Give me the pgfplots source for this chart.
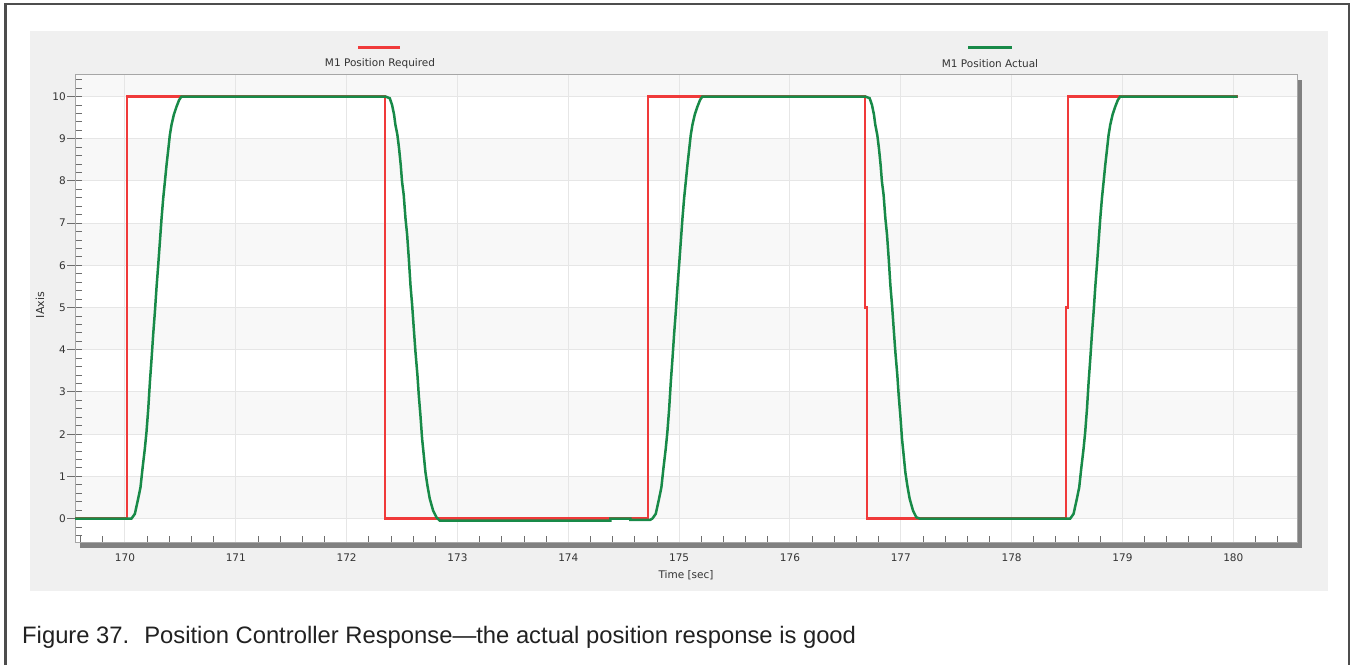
\documentclass[border=0pt]{standalone}
\usepackage{fontspec}
\setmainfont{Liberation Sans}
\newfontfamily\chartfont{DejaVu Sans}
\usepackage{pgfplots}
\pgfplotsset{compat=1.18}
\definecolor{reqred}{RGB}{240,58,58}
\definecolor{actgreen}{RGB}{24,138,72}
\definecolor{panel}{RGB}{240,240,240}
\definecolor{shadowgray}{RGB}{128,128,128}
\definecolor{gridgray}{RGB}{230,230,230}
\definecolor{bandgray}{RGB}{248,248,248}
\definecolor{framegray}{RGB}{77,77,77}
\definecolor{textgray}{RGB}{51,51,51}
\definecolor{tickgray}{RGB}{110,110,110}

\begin{document}
\begin{tikzpicture}[x=1pt,y=1pt]
\path (0,0) rectangle (1354,665);
% frame, panel, plot shadow
\draw[framegray, line width=2.6pt] (5.3,0) -- (5.3,661) -- (1349,661) -- (1349,0);
\fill[panel] (30,74) rectangle (1328,634);
\fill[shadowgray] (80,117) rectangle (1302,585);
\fill[white] (75,122) rectangle (1297,590);
% alternating bands behind the plot (y = 0-1, 2-3, ... in axis units)
\foreach \lo/\hi in {146.48/188.68, 230.88/273.08, 315.27/357.47, 399.67/441.87, 484.07/526.27, 568.46/590}
  \fill[bandgray] (75,\lo) rectangle (1297,\hi);
% legend
\draw[reqred, line width=3pt] (358,617) -- (400,617);
\node[font=\chartfont\fontsize{10.5}{13}\selectfont, text=textgray] at (380,601) {M1 Position Required};
\draw[actgreen, line width=3pt] (968,617) -- (1012,617);
\node[font=\chartfont\fontsize{10.5}{13}\selectfont, text=textgray] at (990,601) {M1 Position Actual};

\begin{axis}[
    at={(75pt,122pt)}, anchor=south west,
    scale only axis, width=1222pt, height=468pt,
    xmin=169.549, xmax=180.575, ymin=-0.58, ymax=10.51,
    xtick distance=1, ytick distance=1,
    minor x tick num=4, minor y tick num=4,
    tick align=inside, tick pos=left,
    major tick length=7pt, minor tick length=7pt,
    tick style={tickgray, line width=0.9pt},
    major x tick style={draw=none},
    grid=major, major grid style={gridgray, line width=1pt},
    axis line style={draw=black!35, line width=1pt},
    scaled x ticks=false,
    /pgf/number format/assume math mode=true,
    tick label style={font=\chartfont\fontsize{10.5}{13}\selectfont, text=textgray},
    xticklabel style={anchor=north, inner sep=0pt, yshift=-11pt},
    yticklabel style={anchor=east, inner sep=0pt, xshift=-9pt},
    extra y ticks={0,1,2,3,4,5,6,7,8,9,10},
    extra y tick labels={},
    extra y tick style={tick align=outside, major tick length=8pt, grid=none},
    xlabel={Time [sec]},
    xlabel style={at={(axis description cs:0.5,-0.0684)}, anchor=center, inner sep=0pt,
        font=\chartfont\fontsize{10.5}{13}\selectfont, text=textgray},
    ylabel={IAxis},
    ylabel style={at={(axis description cs:-0.0286,0.5085)}, anchor=center, inner sep=0pt,
        font=\chartfont\fontsize{11}{13}\selectfont, text=textgray},
]
% M1 Position Required
\addplot[reqred, line width=2.1pt] coordinates {
  (169.549,0) (170.021,0) (170.021,10) (172.349,10) (172.349,0)
  (174.72,0) (174.72,10) (176.677,10) (176.677,5) (176.698,5) (176.698,0)
  (178.49,0) (178.49,5) (178.505,5) (178.505,10) (180.04,10)
};

% M1 Position Actual
\addplot[actgreen, line width=2.5pt] coordinates {
  (169.549,0) (170.059,0) (170.089,0.11) (170.119,0.47) (170.140,0.74)
  (170.158,1.18) (170.179,1.65) (170.194,2.05) (170.210,2.60) (170.225,3.24)
  (170.240,3.79) (170.255,4.38) (170.270,4.90) (170.285,5.49) (170.300,6.01)
  (170.315,6.56) (170.330,7.11) (170.345,7.59) (170.360,7.98) (170.375,8.38)
  (170.390,8.73) (170.405,9.09) (170.420,9.33) (170.441,9.57) (170.465,9.76)
  (170.489,9.92) (170.510,10)
  (172.350,10) (172.389,9.96) (172.410,9.80) (172.428,9.57) (172.440,9.33)
  (172.458,9.09) (172.473,8.77) (172.488,8.38) (172.500,7.98) (172.515,7.67)
  (172.531,7.11) (172.546,6.72) (172.561,6.16) (172.576,5.53) (172.591,5.06)
  (172.606,4.50) (172.621,3.95) (172.639,3.39) (172.651,2.92) (172.666,2.44)
  (172.681,1.89) (172.696,1.50) (172.711,1.10) (172.729,0.78) (172.750,0.47)
  (172.780,0.19) (172.810,0.03) (172.840,-0.05)
  (174.380,-0.05) (174.380,0) (174.560,0) (174.560,-0.03) (174.740,-0.03)
  (174.759,0) (174.789,0.11) (174.819,0.47) (174.840,0.74)
  (174.858,1.18) (174.879,1.65) (174.894,2.05) (174.910,2.60) (174.925,3.24)
  (174.940,3.79) (174.955,4.38) (174.970,4.90) (174.985,5.49) (175.000,6.01)
  (175.015,6.56) (175.030,7.11) (175.045,7.59) (175.060,7.98) (175.075,8.38)
  (175.090,8.73) (175.105,9.09) (175.120,9.33) (175.141,9.57) (175.165,9.76)
  (175.189,9.92) (175.210,10)
  (176.680,10) (176.719,9.96) (176.740,9.80) (176.758,9.57) (176.770,9.33)
  (176.788,9.09) (176.803,8.77) (176.818,8.38) (176.830,7.98) (176.845,7.67)
  (176.861,7.11) (176.876,6.72) (176.891,6.16) (176.906,5.53) (176.921,5.06)
  (176.936,4.50) (176.951,3.95) (176.969,3.39) (176.981,2.92) (176.996,2.44)
  (177.011,1.89) (177.026,1.50) (177.041,1.10) (177.059,0.78) (177.080,0.47)
  (177.110,0.19) (177.140,0.03) (177.170,0)
  (178.529,0) (178.559,0.11) (178.589,0.47) (178.610,0.74)
  (178.628,1.18) (178.649,1.65) (178.664,2.05) (178.680,2.60) (178.695,3.24)
  (178.710,3.79) (178.725,4.38) (178.740,4.90) (178.755,5.49) (178.770,6.01)
  (178.785,6.56) (178.800,7.11) (178.815,7.59) (178.830,7.98) (178.845,8.38)
  (178.860,8.73) (178.875,9.09) (178.890,9.33) (178.911,9.57) (178.935,9.76)
  (178.959,9.92) (178.980,10) (180.04,10)
};
\end{axis}

\node[anchor=base west, inner sep=0pt, font=\fontsize{23.8}{28}\selectfont, text=black!87]
  at (22,21) {Figure 37.\hspace{15pt}Position Controller Response—the actual position response is good};
\end{tikzpicture}
\end{document}
